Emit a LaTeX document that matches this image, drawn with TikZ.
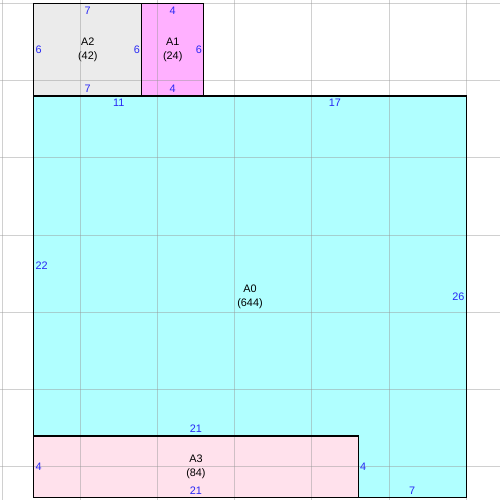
\documentclass[tikz,border=0pt]{standalone}
\usepackage{fontspec}
\setmainfont{Liberation Sans}
\definecolor{roomzero}{RGB}{176,255,255}
\definecolor{roomone}{RGB}{255,176,255}
\definecolor{roomtwo}{RGB}{235,235,235}
\definecolor{roomthree}{RGB}{255,225,236}
\definecolor{dimblue}{RGB}{40,40,245}
\definecolor{gridgray}{RGB}{150,150,150}
\begin{document}
\begin{tikzpicture}
		[x=5mm,y=-5mm,font=\fontsize{10}{12.5}\selectfont,
		room/.style n args={2}{rectangle,draw,line width=1.2pt,inner sep=0pt,outer sep=0pt,
			minimum width=#1*5mm,minimum height=#2*5mm,align=center},
		dim/.style={text=dimblue,inner xsep=1.5pt,inner ysep=3pt},
		gridline/.style={draw=gridgray,line width=0.8pt,opacity=0.45}]
		\useasboundingbox (-0.18,-0.21) rectangle (32.18,32.15);
		% rooms
		\node (A2) [room={7}{6},fill=roomtwo,anchor=north west] at (2,0) {A2\\(42)};
		\node (A1) [room={4}{6},fill=roomone,anchor=north west] at (A2.north east) {A1\\(24)};
		\node (A0) [room={28}{26},fill=roomzero,anchor=north west] at (A2.south west) {A0\\(644)};
		\node (A3) [room={21}{4},fill=roomthree,anchor=south west] at (A0.south west) {A3\\(84)};
		% grid on top
		\foreach \k in {0,5,...,30} {
			\draw[gridline] (\k,-0.21) -- (\k,32.15);
			\draw[gridline] (-0.18,\k) -- (32.18,\k);
		}
		\foreach \r in {A0,A1,A2,A3}
			\draw[line width=1.2pt] (\r.north west) rectangle (\r.south east);
		% sizes
		\node (A2top) [dim,anchor=north] at (A2.north) {7};
		\node (A2bot) [dim,anchor=south] at (A2.south) {7};
		\node (A2left) [dim,anchor=west] at (A2.west) {6};
		\node (A2right) [dim,anchor=east] at (A2.east) {6};
		\node (A1top) [dim,anchor=north] at (A1.north) {4};
		\node (A1bot) [dim,anchor=south] at (A1.south) {4};
		\node (A1right) [dim,anchor=east] at (A1.east) {6};
		\node (A0topa) [dim,anchor=north] at (7.5,6) {11};
		\node (A0topb) [dim,anchor=north] at (21.5,6) {17};
		\node (A0left) [dim,anchor=west] at (2,17) {22};
		\node (A0right) [dim,anchor=east] at (A0.east) {26};
		\node (A0bot) [dim,anchor=south] at (26.5,32) {7};
		\node (A3top) [dim,anchor=south] at (A3.north) {21};
		\node (A3bot) [dim,anchor=south] at (A3.south) {21};
		\node (A3left) [dim,anchor=west] at (A3.west) {4};
		\node (A3right) [dim,anchor=west] at (A3.east) {4};
	\end{tikzpicture}
\end{document}
